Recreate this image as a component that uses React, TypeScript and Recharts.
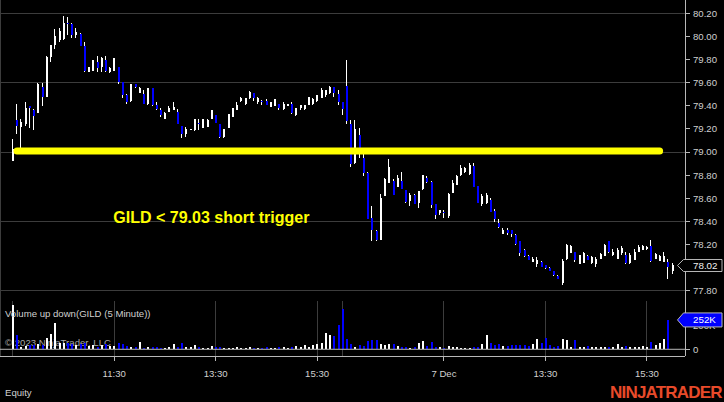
import { ComposedChart, Bar, XAxis, YAxis, CartesianGrid, ReferenceLine } from "recharts";

// 5 minute bars, GILD, 6-7 Dec
const opens = [
  78.92, 79.28, 79.22, 79.24, 79.4, 79.36, 79.34, 79.56, 79.48, 79.82,
  79.93, 79.97, 79.98, 80.12, 80.11, 80.01, 80.02, 79.92, 79.69, 79.7,
  79.78, 79.74, 79.8, 79.69, 79.7, 79.74, 79.61, 79.49, 79.44, 79.59,
  79.51, 79.5, 79.42, 79.55, 79.41, 79.36, 79.29, 79.35, 79.36, 79.35,
  79.23, 79.16, 79.19, 79.19, 79.25, 79.21, 79.22, 79.29, 79.32, 79.24,
  79.13, 79.21, 79.3, 79.36, 79.44, 79.42, 79.47, 79.51, 79.43, 79.44,
  79.44, 79.39, 79.4, 79.42, 79.37, 79.4, 79.42, 79.32, 79.38, 79.37,
  79.41, 79.42, 79.44, 79.47, 79.49, 79.51, 79.56, 79.5, 79.43, 79.57,
  79.24, 78.91, 79.15, 78.95, 78.82, 78.43, 78.32, 78.24, 78.62, 78.73,
  78.75, 78.7, 78.75, 78.67, 78.58, 78.63, 78.56, 78.68, 78.78, 78.74,
  78.55, 78.47, 78.48, 78.45, 78.65, 78.72, 78.8, 78.83, 78.81, 78.88,
  78.71, 78.55, 78.56, 78.59, 78.49, 78.39, 78.29, 78.33, 78.33, 78.28,
  78.23, 78.15, 78.1, 78.05, 78.03, 78.05, 78.02, 78.0, 77.97, 77.93,
  77.87, 78.08, 78.13, 78.14, 78.03, 78.04, 78.1, 78.04, 78.03, 78.08,
  78.1, 78.23, 78.11, 78.08, 78.13, 78.11, 78.04, 78.07, 78.14, 78.15,
  78.16, 78.19, 78.08, 78.06, 78.05, 78.05, 77.97,
];
const highs = [
  79.11, 79.42, 79.29, 79.43, 79.4, 79.37, 79.6, 79.6, 79.83, 79.93,
  80.06, 80.07, 80.18, 80.17, 80.12, 80.07, 80.03, 79.95, 79.74, 79.8,
  79.83, 79.82, 79.83, 79.74, 79.81, 79.74, 79.61, 79.5, 79.59, 79.59,
  79.56, 79.54, 79.55, 79.55, 79.43, 79.38, 79.35, 79.4, 79.43, 79.37,
  79.23, 79.22, 79.2, 79.29, 79.29, 79.29, 79.29, 79.36, 79.32, 79.24,
  79.2, 79.33, 79.38, 79.43, 79.48, 79.47, 79.53, 79.51, 79.48, 79.45,
  79.46, 79.43, 79.46, 79.42, 79.43, 79.42, 79.43, 79.38, 79.41, 79.41,
  79.48, 79.47, 79.49, 79.55, 79.54, 79.57, 79.56, 79.54, 79.43, 79.8,
  79.28, 79.28, 79.21, 78.99, 78.83, 78.53, 78.33, 78.64, 78.78, 78.94,
  78.77, 78.8, 78.83, 78.67, 78.65, 78.64, 78.66, 78.8, 78.79, 78.75,
  78.55, 78.5, 78.5, 78.65, 78.76, 78.8, 78.89, 78.87, 78.91, 78.91,
  78.71, 78.64, 78.65, 78.6, 78.51, 78.42, 78.34, 78.34, 78.33, 78.29,
  78.23, 78.16, 78.11, 78.09, 78.09, 78.06, 78.02, 78.01, 77.97, 77.94,
  78.08, 78.21, 78.2, 78.14, 78.11, 78.14, 78.11, 78.1, 78.09, 78.13,
  78.21, 78.23, 78.16, 78.17, 78.19, 78.14, 78.13, 78.16, 78.2, 78.2,
  78.19, 78.24, 78.13, 78.11, 78.14, 78.08, 78.04,
];
const lows = [
  78.92, 79.16, 79.03, 79.23, 79.21, 79.19, 79.34, 79.4, 79.48, 79.78,
  79.89, 79.95, 79.97, 80.01, 79.99, 79.99, 79.92, 79.69, 79.69, 79.7,
  79.69, 79.69, 79.69, 79.68, 79.7, 79.59, 79.47, 79.42, 79.43, 79.55,
  79.51, 79.42, 79.41, 79.4, 79.36, 79.3, 79.29, 79.35, 79.36, 79.24,
  79.12, 79.13, 79.19, 79.18, 79.19, 79.21, 79.22, 79.29, 79.25, 79.12,
  79.12, 79.21, 79.3, 79.36, 79.43, 79.41, 79.46, 79.44, 79.42, 79.41,
  79.41, 79.39, 79.4, 79.36, 79.36, 79.4, 79.33, 79.31, 79.36, 79.36,
  79.41, 79.41, 79.43, 79.47, 79.48, 79.5, 79.48, 79.41, 79.32, 79.24,
  78.87, 78.9, 78.95, 78.79, 78.42, 78.23, 78.23, 78.24, 78.62, 78.73,
  78.63, 78.7, 78.68, 78.56, 78.53, 78.55, 78.52, 78.67, 78.73, 78.52,
  78.42, 78.46, 78.43, 78.43, 78.65, 78.72, 78.79, 78.82, 78.8, 78.7,
  78.56, 78.53, 78.55, 78.48, 78.4, 78.34, 78.29, 78.28, 78.27, 78.2,
  78.1, 78.09, 78.07, 78.05, 78.01, 78.01, 77.99, 77.97, 77.93, 77.9,
  77.85, 78.07, 78.13, 78.05, 78.03, 78.04, 78.07, 78.03, 78.01, 78.08,
  78.1, 78.13, 78.1, 78.08, 78.11, 78.03, 78.03, 78.07, 78.14, 78.15,
  78.15, 78.05, 78.08, 78.06, 78.05, 77.9, 77.95,
];
const closes = [
  79.03, 79.23, 79.26, 79.38, 79.38, 79.31, 79.59, 79.48, 79.82, 79.93,
  80.0, 80.05, 80.12, 80.11, 80.01, 80.04, 79.92, 79.7, 79.74, 79.8,
  79.73, 79.81, 79.7, 79.73, 79.81, 79.61, 79.49, 79.43, 79.59, 79.56,
  79.55, 79.42, 79.55, 79.41, 79.37, 79.32, 79.34, 79.38, 79.39, 79.24,
  79.16, 79.2, 79.2, 79.29, 79.24, 79.29, 79.28, 79.36, 79.25, 79.13,
  79.2, 79.33, 79.38, 79.41, 79.47, 79.47, 79.52, 79.47, 79.47, 79.43,
  79.41, 79.43, 79.46, 79.38, 79.42, 79.42, 79.34, 79.38, 79.41, 79.41,
  79.48, 79.46, 79.49, 79.54, 79.54, 79.56, 79.51, 79.43, 79.37, 79.27,
  78.9, 79.2, 79.03, 78.82, 78.42, 78.33, 78.24, 78.6, 78.77, 78.87,
  78.63, 78.78, 78.68, 78.57, 78.63, 78.55, 78.66, 78.8, 78.74, 78.54,
  78.46, 78.5, 78.47, 78.64, 78.73, 78.79, 78.86, 78.86, 78.89, 78.7,
  78.56, 78.62, 78.63, 78.48, 78.42, 78.35, 78.33, 78.3, 78.29, 78.21,
  78.13, 78.1, 78.07, 78.08, 78.07, 78.01, 78.0, 77.97, 77.94, 77.9,
  78.06, 78.2, 78.19, 78.07, 78.11, 78.13, 78.07, 78.09, 78.08, 78.12,
  78.2, 78.14, 78.14, 78.15, 78.17, 78.04, 78.11, 78.14, 78.18, 78.19,
  78.18, 78.06, 78.12, 78.1, 78.1, 78.01, 78.02,
];
// volume in thousands
const volumesK = [
  380, 123, 22, 28, 37, 37, 45, 37, 94, 131,
  228, 57, 51, 57, 45, 37, 45, 57, 28, 37,
  17, 37, 45, 28, 28, 57, 45, 28, 17, 17,
  65, 8, 17, 17, 17, 8, 8, 17, 45, 17,
  57, 17, 17, 37, 17, 8, 8, 28, 17, 17,
  8, 8, 8, 17, 8, 8, 17, 8, 8, 8,
  17, 8, 8, 17, 17, 8, 17, 28, 22, 37,
  22, 37, 45, 51, 143, 123, 114, 208, 343, 85,
  45, 22, 37, 28, 74, 80, 80, 45, 37, 45,
  45, 28, 17, 17, 8, 17, 51, 71, 28, 65,
  22, 17, 8, 28, 17, 17, 8, 8, 8, 17,
  17, 45, 123, 51, 37, 45, 28, 28, 37, 37,
  37, 37, 28, 45, 85, 51, 94, 37, 17, 28,
  88, 80, 17, 80, 17, 17, 28, 17, 17, 17,
  17, 17, 17, 45, 17, 28, 22, 22, 17, 28,
  17, 65, 37, 51, 86, 252, null,
];

const tickIndex = [0, 24, 48, 72, 78, 102, 126, 150];
const tickLabels = ["", "11:30", "13:30", "15:30", "", "7 Dec", "13:30", "15:30"];
const priceTicks = [77.8, 78.0, 78.2, 78.4, 78.6, 78.8, 79.0, 79.2, 79.4, 79.6, 79.8, 80.0, 80.2];
const priceGrid = [77.8, 78.4, 79.0, 79.6, 80.2];
const lastPrice = 78.02;
const volumeTicks = [0, 200000];
const lastVolume = 252000;
const triggerPrice = 79.01;
const triggerFrom = 1;
const triggerTo = 153;

const FONT = '"Liberation Sans", Arial, sans-serif';
const TEXT = "#d0d0d0";
const BORDER = "#b8b8b8";
const GRID = "#3c3c3c";
const UP = "#ffffff";
const DOWN = "#0000ff";

const data = opens.map((o, i) => ({
  i,
  o,
  h: highs[i],
  l: lows[i],
  c: closes[i],
  v: volumesK[i] == null ? null : (volumesK[i] as number) * 1000,
}));

const Candle = (props: any) => {
  const { x, y, width, height, payload } = props;
  if (!payload || payload.h == null) return null;
  const cx = Math.floor(x + width / 2);
  const span = payload.h - payload.l;
  const toY = (p: number) => (span > 0 ? y + ((payload.h - p) / span) * height : y);
  const up = payload.c >= payload.o;
  const top = Math.round(y);
  const wickH = Math.max(1, Math.round(y + height) - top);
  const bodyTop = Math.round(toY(Math.max(payload.o, payload.c)));
  const bodyH = Math.max(1, Math.round(toY(Math.min(payload.o, payload.c))) - bodyTop);
  return (
    <g shapeRendering="crispEdges">
      <rect x={cx} y={top} width={1} height={wickH} fill={UP} />
      <rect x={cx} y={bodyTop} width={2} height={bodyH} fill={up ? UP : DOWN} />
    </g>
  );
};

const VolumeBar = (props: any) => {
  const { x, y, width, height, payload } = props;
  if (!payload || payload.v == null || !height) return null;
  const cx = Math.floor(x + width / 2);
  const top = Math.round(y);
  const h = Math.max(1, Math.round(y + height) - top);
  return (
    <rect x={cx} y={top} width={2} height={h} fill={payload.c >= payload.o ? UP : DOWN} shapeRendering="crispEdges" />
  );
};

// arrow shaped value marker on the right axis
const Marker = ({ x, y, text, fill, color, half }: any) => (
  <g>
    <path
      d={`M${x - 15.5},${y} L${x - 9.5},${y - half} L${x + 29},${y - half} L${x + 29},${y + half} L${x - 9.5},${y + half} Z`}
      fill={fill}
      stroke={BORDER}
    />
    <text x={x} y={y} dy="0.35em" fill={color} fontSize={9.8} fontFamily={FONT} textAnchor="start">
      {text}
    </text>
  </g>
);

const PriceTick = (props: any) => {
  const { x, y, payload } = props;
  const v = payload.value;
  if (v === lastPrice) return <Marker x={x} y={y} text={v.toFixed(2)} fill="#000000" color="#f0f0f0" half={6} />;
  // the last price marker hides the label next to it
  if (Math.abs(v - lastPrice) < 0.1) return null;
  return (
    <text x={x} y={y} dy="0.35em" fill={TEXT} fontSize={9.6} fontFamily={FONT} textAnchor="start">
      {v.toFixed(2)}
    </text>
  );
};

const VolumeTick = (props: any) => {
  const { x, y, payload } = props;
  const v = payload.value;
  if (v === lastVolume) return <Marker x={x} y={y} text={`${v / 1000}K`} fill={DOWN} color="#ffffff" half={7} />;
  return (
    <text x={x} y={y} dy="0.35em" fill={TEXT} fontSize={9.6} fontFamily={FONT} textAnchor="start">
      {v === 0 ? "0" : `${v / 1000}K`}
    </text>
  );
};

const TimeTick = (props: any) => {
  const { x, y, payload } = props;
  const label = tickLabels[tickIndex.indexOf(payload.value)];
  if (!label) return null;
  return (
    <g>
      <line x1={x} x2={x} y1={y} y2={y + 5} stroke={BORDER} shapeRendering="crispEdges" />
      <text x={x} y={y + 20.7} fill={TEXT} fontSize={9.6} fontFamily={FONT} textAnchor="middle">
        {label}
      </text>
    </g>
  );
};

const xPad = { left: 10.6, right: 10.6 };

export default function App() {
  return (
    <div
      style={{
        position: "absolute",
        left: 0,
        top: 0,
        width: 724,
        height: 402,
        background: "#000000",
        overflow: "hidden",
        fontFamily: FONT,
      }}
    >
      <style>{`.recharts-cartesian-grid line, .recharts-cartesian-axis line { shape-rendering: crispEdges; }`}</style>

      <svg width={724} height={402} style={{ position: "absolute", left: 0, top: 0 }}>
        <text x={5} y={345.7} fill="#a8a8a8" fontSize={9.6} fontFamily={FONT}>
          © 2023 NinjaTrader, LLC
        </text>
      </svg>

      <div style={{ position: "absolute", left: 0, top: 0 }}>
        <ComposedChart width={724} height={301} data={data} margin={{ top: 0, right: 0, bottom: 0, left: 0 }}>
          <CartesianGrid stroke={GRID} horizontalValues={priceGrid} />
          <XAxis
            dataKey="i"
            type="category"
            ticks={tickIndex}
            interval={0}
            padding={xPad}
            height={0}
            tick={false}
            tickLine={false}
            axisLine={{ stroke: BORDER }}
          />
          <YAxis
            orientation="right"
            width={39}
            domain={[77.713, 80.315]}
            ticks={[...priceTicks, lastPrice]}
            interval={0}
            tickSize={5}
            tickMargin={3}
            tickLine={{ stroke: BORDER }}
            axisLine={{ stroke: BORDER }}
            tick={<PriceTick />}
          />
          <Bar dataKey={(d: any) => [d.l, d.h]} shape={<Candle />} isAnimationActive={false} />
          <ReferenceLine
            segment={[
              { x: triggerFrom, y: triggerPrice },
              { x: triggerTo, y: triggerPrice },
            ]}
            stroke="#ffff00"
            strokeWidth={7}
            strokeLinecap="round"
          />
        </ComposedChart>
      </div>

      <div style={{ position: "absolute", left: 0, top: 301 }}>
        <ComposedChart width={724} height={101} data={data} margin={{ top: 0, right: 0, bottom: 0, left: 0 }}>
          <CartesianGrid stroke={GRID} horizontal={false} />
          <XAxis
            dataKey="i"
            type="category"
            ticks={tickIndex}
            interval={0}
            padding={xPad}
            height={46}
            tickSize={0}
            tickMargin={0}
            tickLine={false}
            axisLine={{ stroke: BORDER }}
            tick={<TimeTick />}
          />
          <YAxis
            orientation="right"
            width={39}
            domain={[-57600, 414500]}
            ticks={[...volumeTicks, lastVolume]}
            interval={0}
            tickSize={5}
            tickMargin={3}
            tickLine={{ stroke: BORDER }}
            axisLine={{ stroke: BORDER }}
            tick={<VolumeTick />}
          />
          <ReferenceLine y={0} stroke={BORDER} />
          <Bar dataKey="v" shape={<VolumeBar />} isAnimationActive={false} />
        </ComposedChart>
      </div>

      <svg width={724} height={402} style={{ position: "absolute", left: 0, top: 0, pointerEvents: "none" }}>
        <text x={113.3} y={223.3} fill="#ffff00" fontSize={16} fontWeight="bold" fontFamily={FONT}>
          GILD &lt; 79.03 short trigger
        </text>
        <text x={5} y={316.7} fill={TEXT} fontSize={9.6} fontFamily={FONT}>
          Volume up down(GILD (5 Minute))
        </text>
        <text x={5} y={396} fill={TEXT} fontSize={9.6} fontFamily={FONT}>
          Equity
        </text>
        <text x={610} y={398.3} fill="#e84a2a" fontSize={17} fontWeight="bold" letterSpacing={-0.8} fontFamily={FONT}>
          NINJATRADER
        </text>
      </svg>
    </div>
  );
}
